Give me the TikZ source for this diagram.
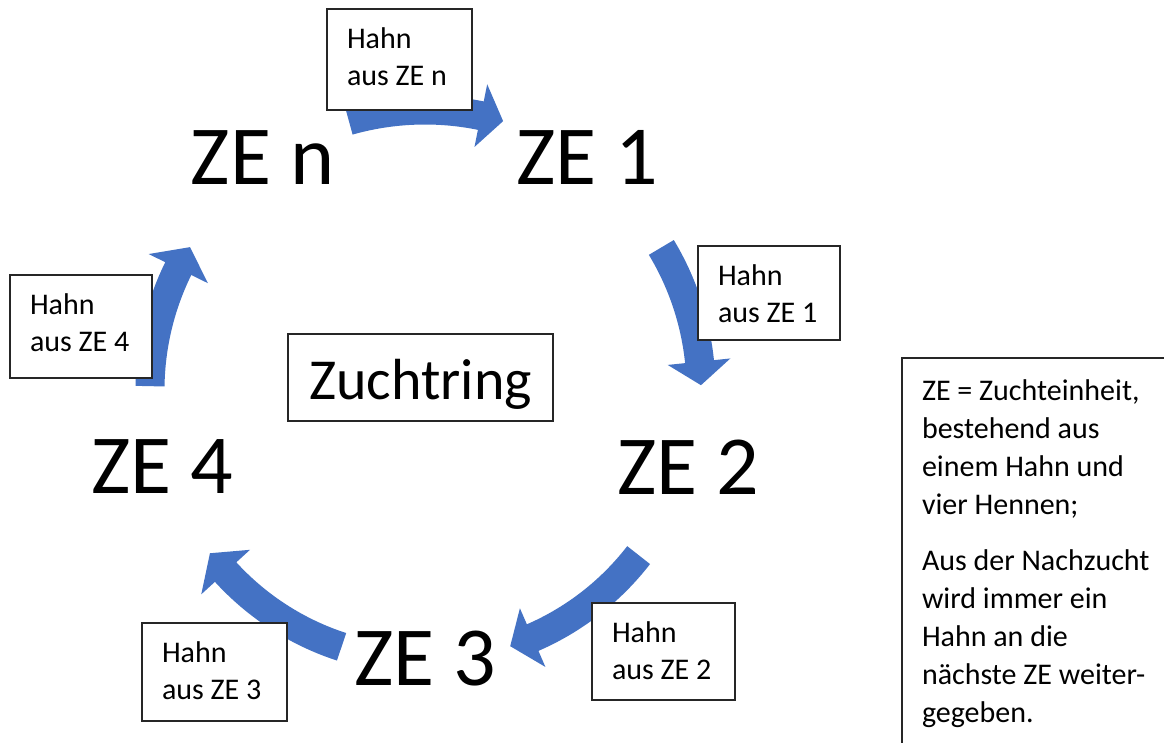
\documentclass[tikz,border=0pt]{standalone}
\usepackage{fontspec}
\setmainfont{Carlito}
\usetikzlibrary{calc}
\definecolor{arrowblue}{HTML}{4472C4}
\setlength{\parindent}{0pt}
\begin{document}
\begin{tikzpicture}[x=1pt,y=-1pt,
  lbl/.style={font=\fontsize{84}{100}\selectfont, inner sep=0pt, anchor=base},
  hbox/.style={draw=black!85, line width=1.3pt, fill=white, inner xsep=20pt, inner ysep=0pt,
    outer sep=0pt, align=flush left, font=\fontsize{30}{37}\selectfont, anchor=north west},
  shaft/.style={draw=arrowblue, line width=29pt},
  head/.style={fill=arrowblue}]
\clip (0,0) rectangle (1164,742);
\fill[white] (0,0) rectangle (1164,742);

\coordinate (c) at (425,390);

% arrow ZE n -> ZE 1
\coordinate (a1s) at ($(c)+(254.2:280)$);
\coordinate (a1p) at ($(c)+(281.5:248)$);
\coordinate (a1t) at ($(c)+(286.2:280)$);
\coordinate (a1q) at ($(c)+(281.5:312)$);
\draw[shaft] (a1s) arc[start angle=254.2, end angle=281.8, radius=280];
\fill[head] (a1p) -- (a1t) -- (a1q) -- cycle;

% arrow ZE 1 -> ZE 2
\coordinate (a2s) at ($(c)+(328.9:276)$);
\coordinate (a2p) at ($(c)+(354.1:244)$);
\coordinate (a2t) at ($(c)+(359:276)$);
\coordinate (a2q) at ($(c)+(354.1:307)$);
\draw[shaft] (a2s) arc[start angle=328.9, end angle=354.4, radius=276];
\fill[head] (a2p) -- (a2t) -- (a2q) -- cycle;

% arrow ZE 2 -> ZE 3
\coordinate (a3s) at ($(c)+(37.7:270)$);
\coordinate (a3p) at ($(c)+(66.5:238)$);
\coordinate (a3t) at ($(c)+(71.6:270)$);
\coordinate (a3q) at ($(c)+(66.5:302)$);
\draw[shaft] (a3s) arc[start angle=37.7, end angle=66.8, radius=270];
\fill[head] (a3p) -- (a3t) -- (a3q) -- cycle;

% arrow ZE 3 -> ZE 4
\coordinate (a4s) at ($(c)+(108:270)$);
\coordinate (a4p) at ($(c)+(137.6:237)$);
\coordinate (a4t) at ($(c)+(142.8:270)$);
\coordinate (a4q) at ($(c)+(137.6:303)$);
\draw[shaft] (a4s) arc[start angle=108, end angle=137.9, radius=270];
\fill[head] (a4p) -- (a4t) -- (a4q) -- cycle;

% arrow ZE 4 -> ZE n
\coordinate (a5s) at ($(c)+(180.8:275)$);
\coordinate (a5p) at ($(c)+(206.2:242)$);
\coordinate (a5t) at ($(c)+(211.3:275)$);
\coordinate (a5q) at ($(c)+(206.2:308)$);
\draw[shaft] (a5s) arc[start angle=180.8, end angle=206.5, radius=275];
\fill[head] (a5p) -- (a5t) -- (a5q) -- cycle;

% small boxes
\node[hbox, minimum width=145, minimum height=101, text width=105pt] (hn) at (327,9)
  {\rule{0pt}{39pt}Hahn\\aus ZE n\rule[-25pt]{0pt}{25pt}};
\node[hbox, minimum width=142, minimum height=94, text width=102pt] (h1) at (698,246)
  {\rule{0pt}{39pt}Hahn\\aus ZE 1\rule[-18pt]{0pt}{18pt}};
\node[hbox, minimum width=143, minimum height=97, text width=103pt] (h2) at (592,603)
  {\rule{0pt}{39pt}Hahn\\aus ZE 2\rule[-21pt]{0pt}{21pt}};
\node[hbox, minimum width=145, minimum height=98, text width=105pt] (h3) at (142,623)
  {\rule{0pt}{39pt}Hahn\\aus ZE 3\rule[-22pt]{0pt}{22pt}};
\node[hbox, minimum width=142, minimum height=103, text width=102pt] (h4) at (10,275)
  {\rule{0pt}{39pt}Hahn\\aus ZE 4\rule[-27pt]{0pt}{27pt}};

% centre box
\node[draw=black!85, line width=1.3pt, fill=white, minimum width=265, minimum height=87,
  inner sep=0pt, outer sep=0pt, text height=50pt, text depth=7pt,
  font=\fontsize{58}{70}\selectfont] (zr) at (420.5,377.5) {Zuchtring};

% legend box
\node[draw=black!85, line width=1.3pt, fill=white, anchor=north west, minimum width=300,
  minimum height=422, text width=260pt, inner xsep=20pt, inner ysep=0pt, outer sep=0pt,
  align=flush left, font=\fontsize{30}{38}\selectfont] (leg) at (902,358)
  {\rule{0pt}{42pt}ZE = Zuchteinheit,\\bestehend aus\\einem Hahn und\\vier Hennen;\\[18pt]Aus der Nachzucht\\wird immer ein\\Hahn an die\\nächste ZE weiter-\\gegeben.\rule[-58pt]{0pt}{58pt}};

% big labels
\node[lbl] (zn) at (262.5,184) {ZE n};
\node[lbl] (z1) at (587.5,184) {ZE 1};
\node[lbl] (z2) at (688.5,494) {ZE 2};
\node[lbl] (z3) at (425.5,685) {ZE 3};
\node[lbl] (z4) at (162.5,493) {ZE 4};
\end{tikzpicture}
\end{document}
